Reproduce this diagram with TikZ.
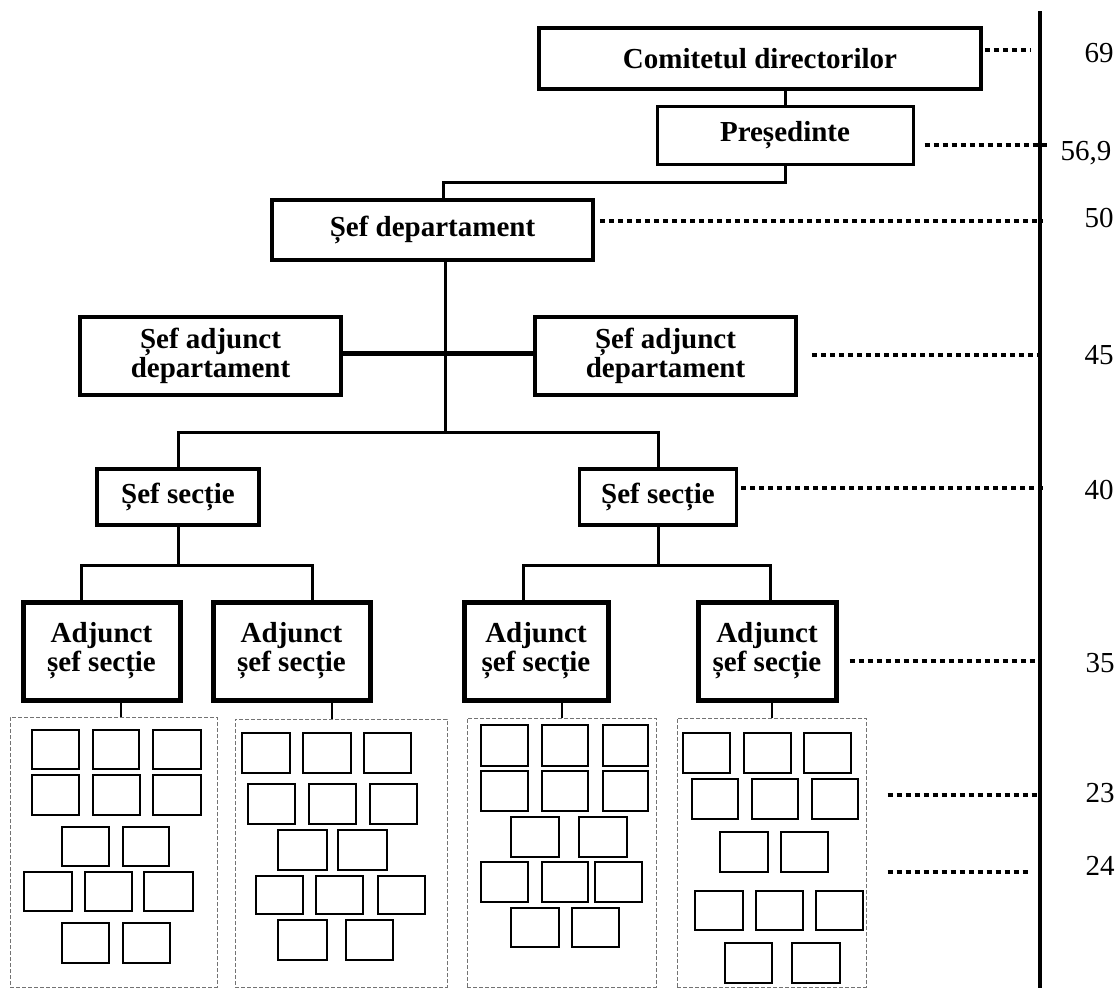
\documentclass[tikz,border=0pt]{standalone}
\usepackage{fontspec}
\setmainfont{Liberation Serif}
\begin{document}
\begin{tikzpicture}[x=1pt,y=-1pt,
  unit/.style={draw=black, fill=white, line width=3.5pt, inner sep=2pt, align=center,
    font=\bfseries\fontsize{29}{29}\selectfont},
  adjbox/.style={unit, line width=5pt},
  link/.style={line width=3pt},
  heavylink/.style={line width=5pt},
  sublink/.style={line width=1.5pt},
  grp/.style={draw=black!55, line width=1pt, dash pattern=on 4pt off 2pt},
  cell/.style={line width=2.5pt},
  lvldots/.style={line width=4pt, dash pattern=on 5pt off 4pt},
  lvl/.style={font=\fontsize{29}{29}\selectfont, inner sep=0pt},
  axisline/.style={line width=4pt}]
\useasboundingbox (0,0) rectangle (1118,988);

% hierarchy boxes
\node[unit, minimum width=442pt, minimum height=61pt] (com) at (760,58.5) {Comitetul directorilor};
\node[unit, line width=3pt, minimum width=256pt, minimum height=58pt] (pres) at (785,135) {Președinte};
\node[unit, minimum width=321pt, minimum height=60pt] (sd) at (432.5,230) {Șef departament};
\node[unit, minimum width=261pt, minimum height=78pt] (sadL) at (210.5,356) {Șef adjunct\\departament};
\node[unit, minimum width=261pt, minimum height=78pt] (sadR) at (665.5,356) {Șef adjunct\\departament};
\node[unit, minimum width=162pt, minimum height=56pt] (ssL) at (178,497) {Șef secție};
\node[unit, minimum width=157pt, minimum height=56pt] (ssR) at (658,497) {Șef secție};
\node[adjbox, minimum width=157pt, minimum height=98pt] (adj1) at (101.5,651) {Adjunct\\șef secție};
\node[adjbox, minimum width=157pt, minimum height=98pt] (adj2) at (291.5,651) {Adjunct\\șef secție};
\node[adjbox, minimum width=144pt, minimum height=98pt] (adj3) at (536,651) {Adjunct\\șef secție};
\node[adjbox, minimum width=138pt, minimum height=98pt] (adj4) at (767,651) {Adjunct\\șef secție};

% staff groups (dashed frames)
\node[grp, minimum width=207pt, minimum height=270pt] (g1) at (113.5,852) {};
\node[grp, minimum width=212pt, minimum height=268pt] (g2) at (341,853) {};
\node[grp, minimum width=189pt, minimum height=269pt] (g3) at (561.5,852.5) {};
\node[grp, minimum width=189pt, minimum height=269pt] (g4) at (771.5,852.5) {};

% staff cells
\foreach \a/\b/\c/\d in {
  32/730/79/769, 93/730/139/769, 153/730/201/769,
  32/775/79/815, 93/775/140/815, 153/775/201/815,
  62/827/109/866, 123/827/169/866,
  24/872/72/911, 85/872/132/911, 144/872/193/911,
  62/923/109/963, 123/923/170/963,
  242/733/290/773, 303/733/351/773, 364/733/411/773,
  248/784/295/824, 309/784/356/824, 370/784/417/824,
  278/830/327/870, 338/830/387/870,
  256/876/303/914, 316/876/363/914, 378/876/425/914,
  278/920/327/960, 346/920/393/960,
  481/725/528/766, 542/725/588/766, 603/725/648/766,
  481/771/528/811, 542/771/588/811, 603/771/648/811,
  511/817/559/857, 579/817/627/857,
  481/862/528/902, 542/862/588/902, 595/862/642/902,
  511/908/559/947, 572/908/619/947,
  683/733/730/773, 744/733/791/773, 804/733/851/773,
  692/779/738/819, 752/779/798/819, 812/779/858/819,
  720/832/768/872, 781/832/828/872,
  695/891/743/930, 756/891/803/930, 816/891/863/930,
  725/943/772/983, 792/943/840/983}
  \draw[cell] (\a,\b) rectangle (\c,\d);

% junction points of the tree
\coordinate (b1) at (443,182);
\coordinate (b2) at (445,353);
\coordinate (b3) at (445,432);
\coordinate (hL) at (178,565);
\coordinate (hR) at (658,565);

% connectors
\draw[link] (pres.north) -- (pres.north |- com.south);
\draw[link] (pres.south) |- (b1) -- (b1 |- sd.north);
\draw[link] (sd.south -| b3) -- (b3);
\draw[heavylink] (b2 -| sadL.east) -- (b2 -| sadR.west);
\draw[link] (ssL.north) |- (b3) -| (ssR.north);
\draw[link] (ssL.south) -- (hL);
\draw[link] (ssR.south) -- (hR);
\draw[link] ([xshift=-20.5pt]adj1.north) |- (hL) -| ([xshift=20.5pt]adj2.north);
\draw[link] ([xshift=-13pt]adj3.north) |- (hR) -| ([xshift=3pt]adj4.north);
\draw[sublink] ([xshift=19.5pt]adj1.south) -- ([xshift=19.5pt]adj1.south |- g1.north);
\draw[sublink] ([xshift=40.5pt]adj2.south) -- ([xshift=40.5pt]adj2.south |- g2.north);
\draw[sublink] ([xshift=26pt]adj3.south) -- ([xshift=26pt]adj3.south |- g3.north);
\draw[sublink] ([xshift=5pt]adj4.south) -- ([xshift=5pt]adj4.south |- g4.north);

% age scale
\coordinate (axtop) at (1040,11);
\coordinate (axbot) at (1040,988);
\draw[axisline] (axtop) -- (axbot);

\node[lvl] (v69) at (1099,53) {69};
\node[lvl] (v569) at (1086,153) {56,9};
\node[lvl] (v50) at (1099,218) {50};
\node[lvl] (v45) at (1099,355) {45};
\node[lvl] (v40) at (1099,490) {40};
\node[lvl] (v35) at (1100,663) {35};
\node[lvl] (v23) at (1100,793) {23};
\node[lvl] (v24) at (1100,866) {24};

\coordinate (d69) at (1030,50);
\coordinate (d569) at (1047,145);
\coordinate (d50) at (1043,221);
\coordinate (d45) at (1043,355);
\coordinate (d40) at (1043,488);
\coordinate (d35) at (1042,661);
\coordinate (d23) at (1037,795);
\coordinate (d24) at (1031,872);

\draw[lvldots] ([xshift=2pt]com.east |- d69) -- (d69);
\draw[lvldots] ([xshift=10pt]pres.east |- d569) -- (d569);
\draw[lvldots] ([xshift=5pt]sd.east |- d50) -- (d50);
\draw[lvldots] ([xshift=14pt]sadR.east |- d45) -- (d45);
\draw[lvldots] ([xshift=3pt]ssR.east |- d40) -- (d40);
\draw[lvldots] ([xshift=11pt]adj4.east |- d35) -- (d35);
\draw[lvldots] ([xshift=21pt]g4.east |- d23) -- (d23);
\draw[lvldots] ([xshift=21pt]g4.east |- d24) -- (d24);
\end{tikzpicture}
\end{document}
